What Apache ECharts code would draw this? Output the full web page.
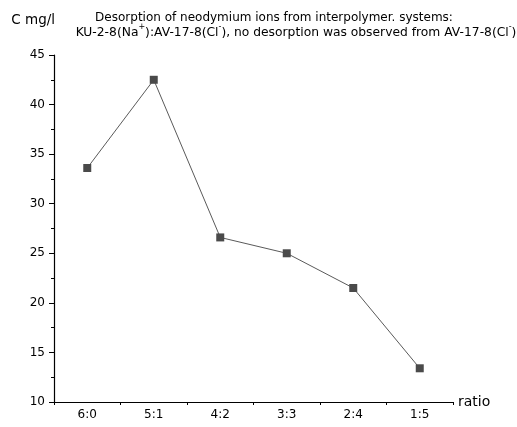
<!DOCTYPE html>
<html>
<head>
<meta charset="utf-8">
<script src="https://cdn.jsdelivr.net/npm/echarts@6/dist/echarts.min.js"></script>
<style>html,body{margin:0;padding:0;background:#fff}#c{width:517px;height:427px}</style>
</head>
<body>
<div id="c"></div>
<script>
const categories = ['6:0', '5:1', '4:2', '3:3', '2:4', '1:5'];
const concentration = [33.6, 42.5, 26.6, 25.0, 21.5, 13.4];
const titleLine1 = 'Desorption of neodymium ions from interpolymer. systems:';
const titleLine2 = 'KU-2-8(Na{sup|+}):AV-17-8(Cl{sup|-}), no desorption was observed from AV-17-8(Cl{sup|-})';
const yName = 'C mg/l';
const xName = 'ratio';

const font = '"DejaVu Sans", sans-serif';
const chart = echarts.init(document.getElementById('c'), null, {renderer: 'canvas'});
function titleStyle(size) {
  return {
    fontFamily: font, fontSize: size, fontWeight: 'normal', color: '#000', lineHeight: 14,
    rich: {
      sup: {fontFamily: font, fontSize: 8, color: '#000', lineHeight: 14, verticalAlign: 'top', padding: [-3, 0, 0, 0]}
    }
  };
}
chart.setOption({
  animation: false,
  backgroundColor: '#fff',
  title: [
    {text: titleLine1, left: 274, top: 11, textAlign: 'center', padding: 0, textStyle: titleStyle(12)},
    {text: titleLine2, left: 296, top: 26, textAlign: 'center', padding: 0, textStyle: titleStyle(12.3)}
  ],
  grid: {left: 54, right: 64, top: 55, bottom: 25, containLabel: false},
  xAxis: [{
    type: 'category', data: categories, boundaryGap: true,
    name: xName, nameLocation: 'end', nameGap: 5,
    nameTextStyle: {fontFamily: font, fontSize: 14, color: '#000', align: 'left', verticalAlign: 'middle', padding: [0, 0, 10, 0]},
    axisLine: {lineStyle: {color: '#000', width: 1.2}},
    axisTick: {alignWithLabel: true, length: 5, lineStyle: {color: '#000'}},
    axisLabel: {fontFamily: font, fontSize: 12, color: '#000', margin: 7},
    splitLine: {show: false}
  }, {
    type: 'category', data: categories, boundaryGap: true, position: 'bottom',
    axisLine: {show: false},
    axisTick: {show: true, length: 3, lineStyle: {color: '#000'}},
    axisLabel: {show: false},
    splitLine: {show: false}
  }],
  yAxis: {
    type: 'value', min: 10, max: 45, interval: 5,
    name: yName, nameLocation: 'end', nameGap: 28,
    nameTextStyle: {fontFamily: font, fontSize: 13.5, color: '#000', align: 'right', padding: [0, -1, 0, 0]},
    axisLine: {show: true, lineStyle: {color: '#000', width: 1.2}},
    axisTick: {show: true, length: 5, lineStyle: {color: '#000'}},
    minorTick: {show: true, splitNumber: 2, length: 3, lineStyle: {color: '#000'}},
    axisLabel: {fontFamily: font, fontSize: 12, color: '#000', margin: 9},
    splitLine: {show: false}
  },
  series: [{
    type: 'line', data: concentration, xAxisIndex: 0,
    symbol: 'rect', symbolSize: 8,
    lineStyle: {color: '#5a5a5a', width: 1},
    itemStyle: {color: '#4a4a4a'}
  }]
});
</script>
</body>
</html>
